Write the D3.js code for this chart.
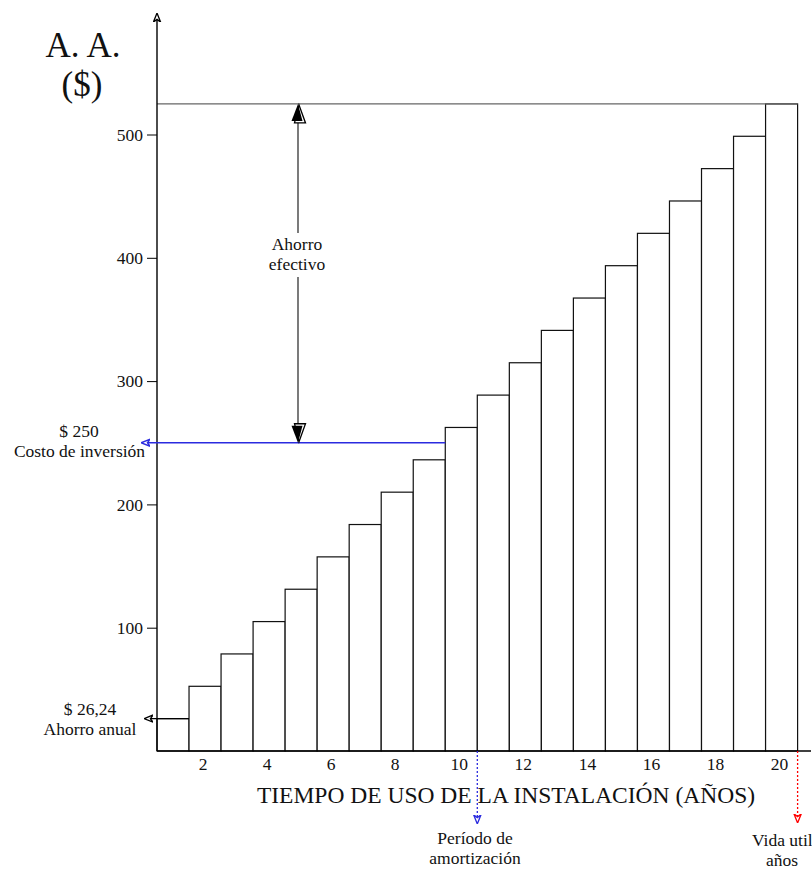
<!DOCTYPE html>
<html>
<head>
<meta charset="utf-8">
<script src="https://cdn.jsdelivr.net/npm/d3@7"></script>
<style>
  body { margin: 0; background: #fff; overflow: hidden; }
  svg { display: block; font-family: "Liberation Serif", "Times New Roman", serif; }
</style>
</head>
<body>
<svg id="chart" width="812" height="871"></svg>
<script>
// Años de uso de la instalación
const years = [1, 2, 3, 4, 5, 6, 7, 8, 9, 10, 11, 12, 13, 14, 15, 16, 17, 18, 19, 20];
// Ahorro acumulado ($) al final de cada año
const savings = [26.24, 52.48, 78.72, 104.96, 131.2, 157.44, 183.68, 209.92, 236.16, 262.4,
                 288.64, 314.88, 341.12, 367.36, 393.6, 419.84, 446.08, 472.32, 498.56, 524.8];
const yTicks = [100, 200, 300, 400, 500];
const xTicks = [2, 4, 6, 8, 10, 12, 14, 16, 18, 20];
const annualSaving = 26.24;
const investment = 250;
const paybackYear = 10;
const lifeYears = 20;

const svg = d3.select("#chart");
const x = d3.scaleLinear().domain([0, 20]).range([157, 797.6]);
const y = d3.scaleLinear().domain([0, 600]).range([751, 11.2]);
const x0 = x(0), y0 = y(0);
const FS = 17.5;

function label(px, py, txt, size, anchor) {
  return svg.append("text").attr("x", px).attr("y", py)
    .attr("text-anchor", anchor || "middle")
    .attr("font-size", size || FS).attr("fill", "#111").text(txt);
}

// Marcadores de flecha
const defs = svg.append("defs");
function smallArrow(id, color) {
  defs.append("marker").attr("id", id)
    .attr("viewBox", "0 0 10 10").attr("refX", 9).attr("refY", 5)
    .attr("markerWidth", 9).attr("markerHeight", 9).attr("orient", "auto-start-reverse")
    .attr("markerUnits", "userSpaceOnUse")
    .append("path").attr("d", "M0,1 L10,5 L0,9 L3,5 Z")
    .attr("fill", "#fff").attr("stroke", color).attr("stroke-width", 1.5);
}
smallArrow("arrBlack", "#000");
smallArrow("arrBlue", "#2b2bdf");
smallArrow("arrRed", "#f00");

// Barras acumuladas
svg.append("g").selectAll("rect").data(years).join("rect")
  .attr("x", d => x(d - 1))
  .attr("y", (d, i) => y(savings[i]))
  .attr("width", x(1) - x(0))
  .attr("height", (d, i) => y0 - y(savings[i]))
  .attr("fill", "#fff").attr("stroke", "#111").attr("stroke-width", 1.2);

// Línea del ahorro total
const total = savings[savings.length - 1];
svg.append("line").attr("x1", x0).attr("x2", x(lifeYears))
  .attr("y1", y(total)).attr("y2", y(total))
  .attr("stroke", "#666").attr("stroke-width", 1.4);

// Eje Y
const yAxis = svg.append("g").attr("transform", `translate(${x0},0)`)
  .call(d3.axisLeft(y).tickValues(yTicks).tickSize(10).tickPadding(4).tickSizeOuter(0));
yAxis.select(".domain").remove();
yAxis.selectAll("line").attr("stroke", "#000");
yAxis.selectAll("text").attr("font-size", FS).attr("font-family", "Liberation Serif").attr("fill", "#111");
svg.append("line").attr("x1", x0).attr("x2", x0).attr("y1", y0).attr("y2", 14)
  .attr("stroke", "#000").attr("stroke-width", 1.4).attr("marker-end", "url(#arrBlack)");

// Eje X
svg.append("line").attr("x1", x0).attr("x2", 811).attr("y1", y0).attr("y2", y0)
  .attr("stroke", "#000").attr("stroke-width", 1.4);
svg.append("g").selectAll("text").data(xTicks).join("text")
  .attr("x", d => x(d - 0.5) - 2).attr("y", 770)
  .attr("text-anchor", "middle").attr("font-size", FS).attr("fill", "#111")
  .text(d => d);

label(506, 803, "TIEMPO DE USO DE LA INSTALACIÓN (AÑOS)", 23.5);

// Título del eje Y
label(83, 57, "A. A.", 35);
label(82, 96, "($)", 35);

// Ahorro anual
svg.append("line").attr("x1", x(1)).attr("x2", 145)
  .attr("y1", y(annualSaving)).attr("y2", y(annualSaving))
  .attr("stroke", "#000").attr("stroke-width", 1.3).attr("marker-end", "url(#arrBlack)");
label(90, 715, "$ 26,24");
label(90, 735, "Ahorro anual");

// Costo de inversión
svg.append("line").attr("x1", x(paybackYear - 1)).attr("x2", 142)
  .attr("y1", y(investment)).attr("y2", y(investment))
  .attr("stroke", "#2b2bdf").attr("stroke-width", 1.3).attr("marker-end", "url(#arrBlue)");
label(79, 437, "$ 250");
label(79.5, 457, "Costo de inversión");

// Ahorro efectivo (flecha doble)
const ax = 298;
svg.append("line").attr("x1", ax).attr("x2", ax)
  .attr("y1", y(total) + 14).attr("y2", y(investment) - 14)
  .attr("stroke", "#333").attr("stroke-width", 1.3);
function bigHead(tipY, dir) {
  const h = 19 * dir, w = 6.5;
  svg.append("path")
    .attr("d", `M${ax + 1},${tipY + 1 * dir} L${ax + w + 1},${tipY + h} L${ax - w + 3},${tipY + h} Z`)
    .attr("fill", "#fff").attr("stroke", "#000").attr("stroke-width", 1.3);
  svg.append("path")
    .attr("d", `M${ax},${tipY} L${ax + w - 2},${tipY + h - 2 * dir} L${ax - w},${tipY + h - 2 * dir} Z`)
    .attr("fill", "#000");
}
bigHead(y(total), 1);
bigHead(y(investment), -1);
svg.append("rect").attr("x", 264).attr("y", 233).attr("width", 68).attr("height", 44).attr("fill", "#fff");
label(297, 250, "Ahorro");
label(297, 270, "efectivo");

// Período de amortización
svg.append("line").attr("x1", x(paybackYear)).attr("x2", x(paybackYear))
  .attr("y1", y0).attr("y2", 823)
  .attr("stroke", "#2b2bdf").attr("stroke-width", 1.3).attr("stroke-dasharray", "2,2")
  .attr("marker-end", "url(#arrBlue)");
label(475, 844, "Período de");
label(475, 864, "amortización");

// Vida útil
svg.append("line").attr("x1", x(lifeYears)).attr("x2", x(lifeYears))
  .attr("y1", y0).attr("y2", 822)
  .attr("stroke", "#f00").attr("stroke-width", 1.3).attr("stroke-dasharray", "2,2")
  .attr("marker-end", "url(#arrRed)");
label(752, 846, "Vida util", FS, "start");
label(782, 866, "años");
</script>
</body>
</html>
